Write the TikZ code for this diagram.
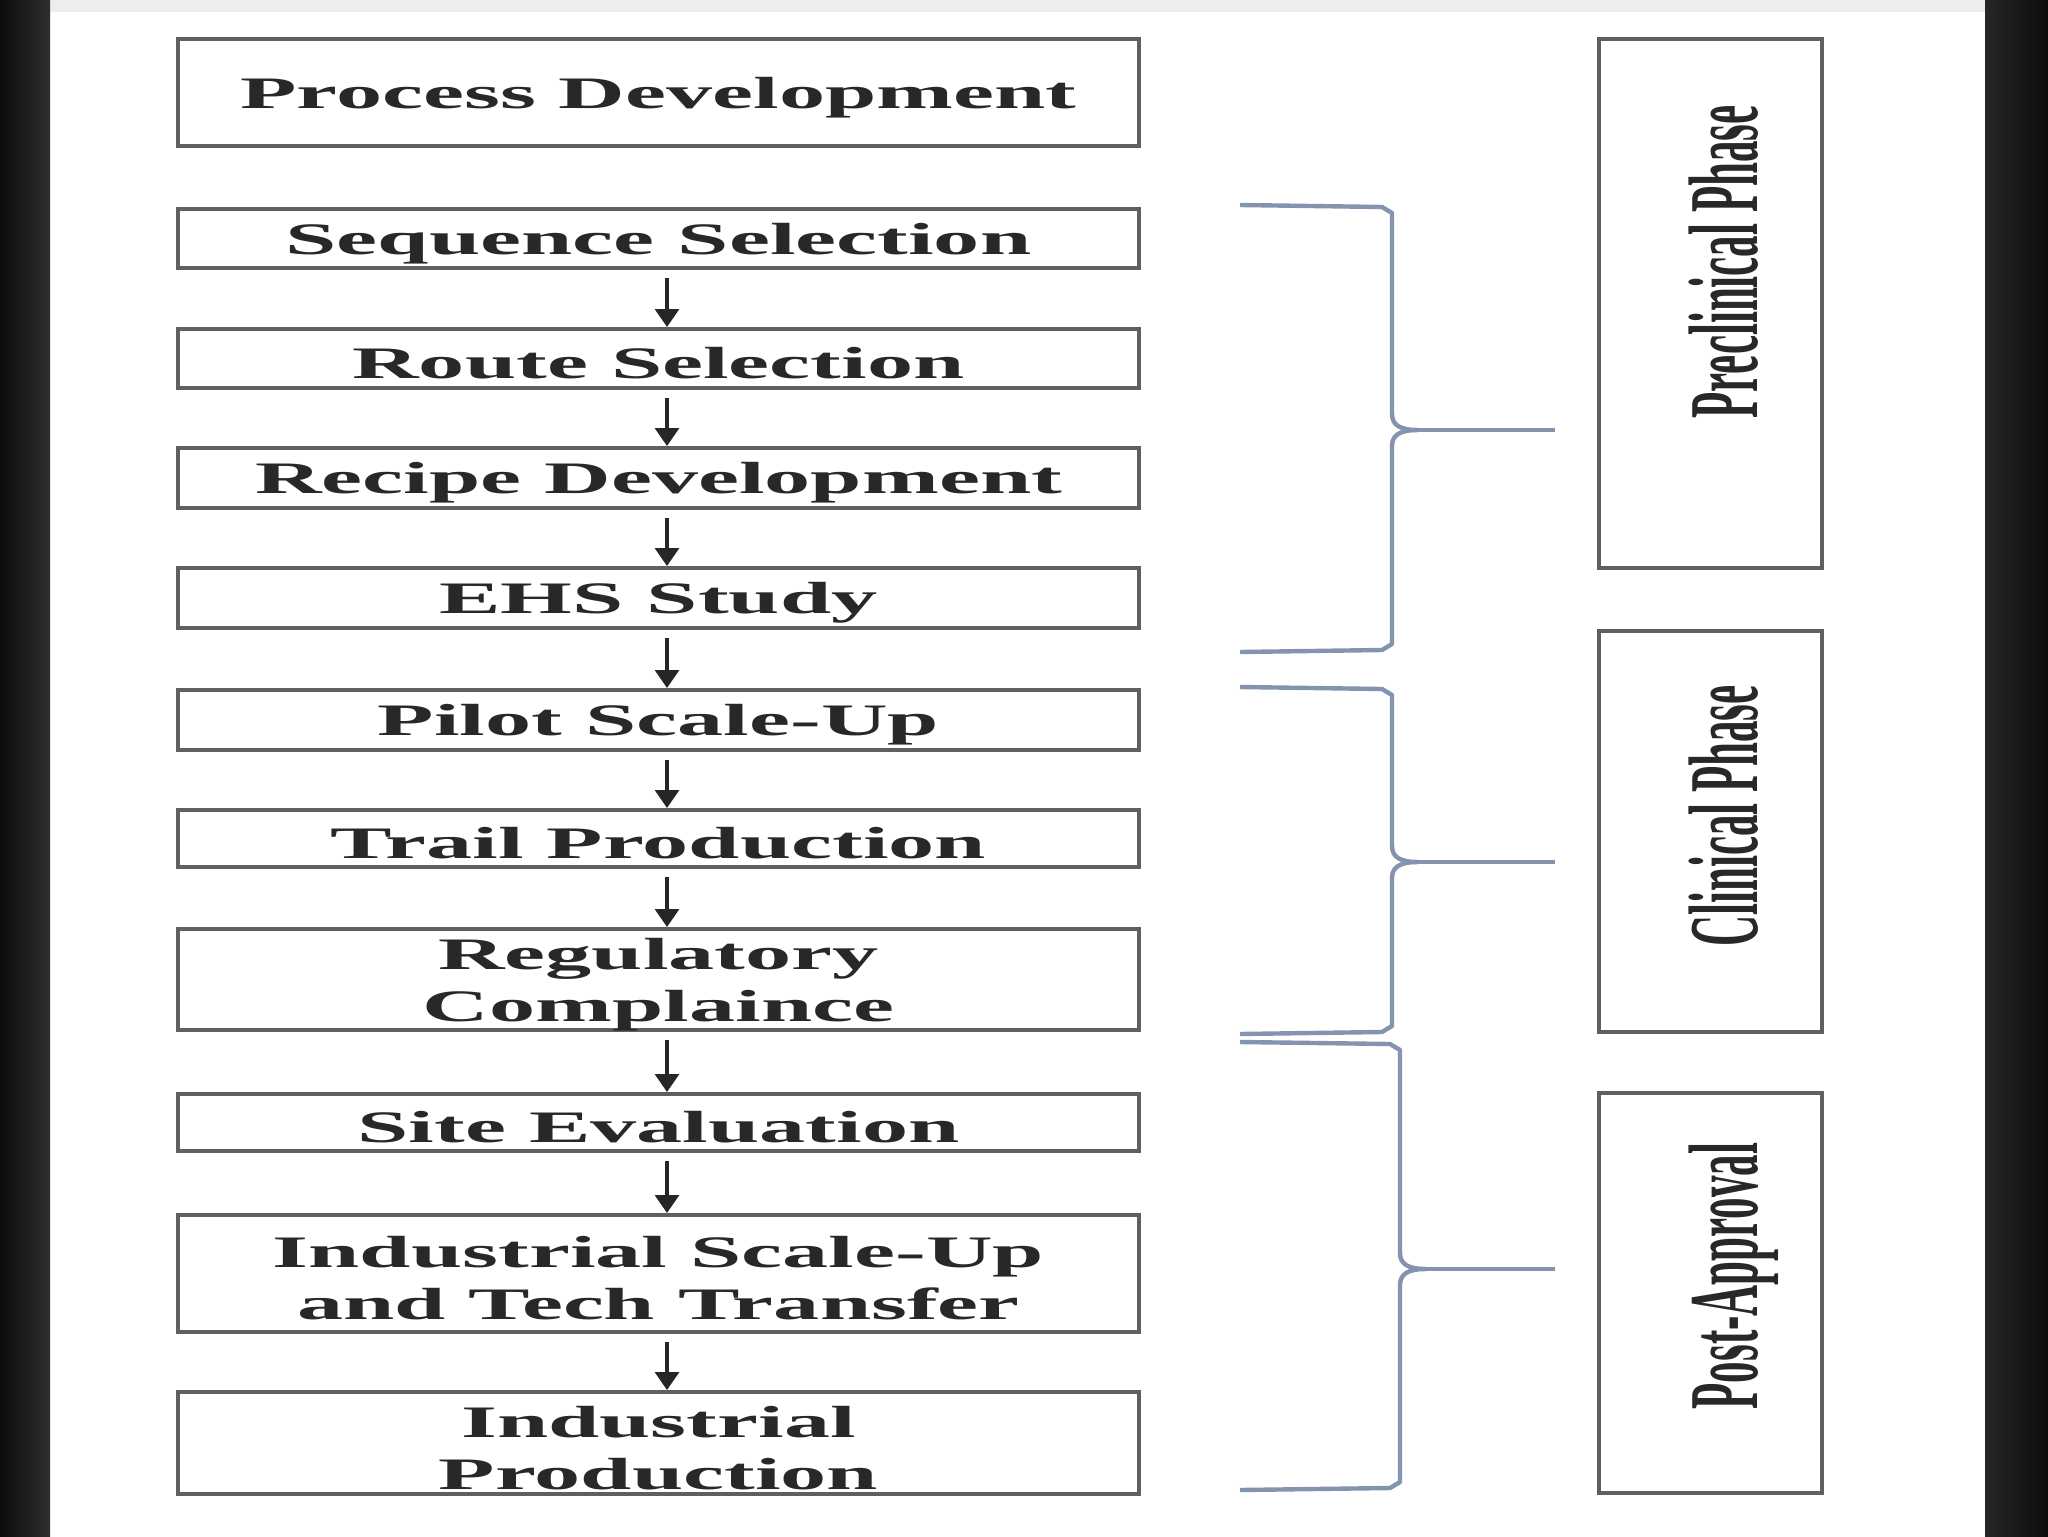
\documentclass[tikz,border=0pt]{standalone}
\usepackage{fontspec}
\setmainfont{Liberation Serif}
\usetikzlibrary{arrows.meta,calc}
\definecolor{bracecol}{RGB}{132,147,176}
\definecolor{boxline}{RGB}{95,95,95}
\definecolor{txt}{RGB}{40,40,40}
\newcommand\wide[1]{\raisebox{-2.5pt}[\height][\depth]{\scalebox{2.05}[1]{#1}}}
\newcommand\tall[1]{\scalebox{1}[2.3]{#1}}
\newcommand\phasebrace[6]{% left x, top y, bottom y, vertical x, tip y, tip end x
  \draw[bracket] (#1,#2) -- ({#4-10},{#2+2}) -- (#4,{#2+8}) -- (#4,{#5-16})
    .. controls (#4,{#5-5}) and ({#4+8},#5) .. ({#4+26},#5);
  \draw[bracket, line width=1.6pt] ({#4+26},#5) -- (#6,#5);
  \draw[bracket] ({#4+26},#5) .. controls ({#4+8},#5) and (#4,{#5+5}) .. (#4,{#5+16})
    -- (#4,{#3-8}) -- ({#4-10},{#3-2}) -- (#1,#3);
}
\begin{document}
\begin{tikzpicture}[x=0.5pt,y=-0.5pt,
  flowbox/.style={draw=boxline, line width=2pt, fill=white, minimum width=480.5pt,
    inner sep=0pt, text=txt, font=\bfseries\fontsize{22.5}{26}\selectfont, align=center},
  phasebox/.style={draw=boxline, line width=2pt, minimum width=111.5pt, inner sep=0pt},
  flowarrow/.style={draw=black!85, line width=1.6pt, -{Triangle[length=9pt,width=12pt]}, shorten <=4pt},
  bracket/.style={draw=bracecol, line width=2.2pt, line join=round},
  phaselabel/.style={rotate=90, anchor=base, text=txt, font=\bfseries\fontsize{21.5}{25}\selectfont, inner sep=0pt}]
\useasboundingbox (0,0) rectangle (2048,1536);
% background
\fill[white] (0,0) rectangle (2048,1536);
\fill[black!7] (50,0) rectangle (1985,12);
\shade[left color=black!95, right color=black!82] (0,0) rectangle (50,1536);
\shade[left color=black!85, right color=black!95] (1985,0) rectangle (2048,1536);

% flow boxes
\node[flowbox, minimum height=53.5pt] (pd)  at (658.5,92.5)  {\wide{Process Development}};
\node[flowbox, minimum height=29.5pt] (ss)  at (658.5,238.5) {\wide{Sequence Selection}};
\node[flowbox, minimum height=29.5pt] (rs)  at (658.5,358.5) {\wide{Route Selection}};
\node[flowbox, minimum height=30pt]   (rd)  at (658.5,478)   {\wide{Recipe Development}};
\node[flowbox, minimum height=30pt]   (ehs) at (658.5,598)   {\wide{EHS Study}};
\node[flowbox, minimum height=30pt]   (psu) at (658.5,720)   {\wide{Pilot Scale-Up}};
\node[flowbox, minimum height=28.5pt] (tp)  at (658.5,838.5) {\wide{Trail Production}};
\node[flowbox, minimum height=50.5pt] (rc)  at (658.5,979.5) {\wide{Regulatory}\\\wide{Complaince}};
\node[flowbox, minimum height=28.5pt] (se)  at (658.5,1122.5) {\wide{Site Evaluation}};
\node[flowbox, minimum height=58.5pt] (isu) at (658.5,1273.5) {\wide{Industrial Scale-Up}\\\wide{and Tech Transfer}};
\node[flowbox, minimum height=51pt]   (ip)  at (658.5,1443)  {\wide{Industrial}\\\wide{Production}};

% arrows
\coordinate (ax) at (667,0);
\draw[flowarrow] (ss.south -| ax) -- (rs.north -| ax);
\draw[flowarrow] (rs.south -| ax) -- (rd.north -| ax);
\draw[flowarrow] (rd.south -| ax) -- (ehs.north -| ax);
\draw[flowarrow] (ehs.south -| ax) -- (psu.north -| ax);
\draw[flowarrow] (psu.south -| ax) -- (tp.north -| ax);
\draw[flowarrow] (tp.south -| ax) -- (rc.north -| ax);
\draw[flowarrow] (rc.south -| ax) -- (se.north -| ax);
\draw[flowarrow] (se.south -| ax) -- (isu.north -| ax);
\draw[flowarrow] (isu.south -| ax) -- (ip.north -| ax);

% phase boxes
\node[phasebox, minimum height=264.5pt] (pre)  at (1710.5,303.5) {};
\node[phasebox, minimum height=200.5pt] (clin) at (1710.5,831.5) {};
\node[phasebox, minimum height=200pt]   (post) at (1710.5,1293)  {};
\node[phaselabel] (prelab)  at (1757,262)  {\tall{Preclinical Phase}};
\node[phaselabel] (clinlab) at (1757,816)  {\tall{Clinical Phase}};
\node[phaselabel] (postlab) at (1757,1276) {\tall{Post-Approval}};

% brackets
\phasebrace{1240}{205}{652}{1392}{430}{1555}
\phasebrace{1240}{687}{1034}{1392}{862}{1555}
\phasebrace{1240}{1042}{1490}{1400}{1269}{1555}
\end{tikzpicture}
\end{document}
